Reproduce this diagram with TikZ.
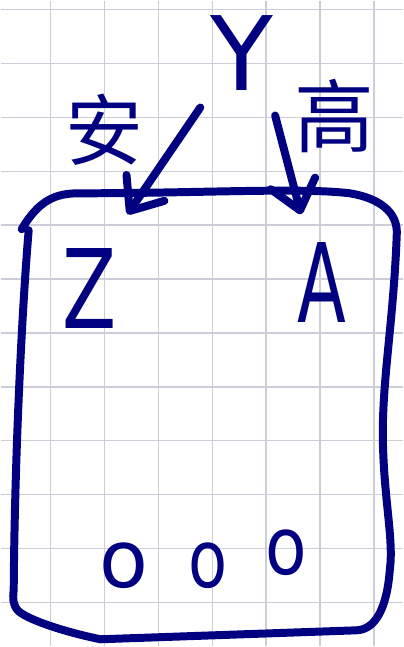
\documentclass[tikz,border=0pt]{standalone}
\usepackage{fontspec}
\setmainfont{DejaVu Sans}
\newfontfamily\cjk{Noto Sans CJK SC}
\usetikzlibrary{arrows.meta}
\definecolor{inkblue}{RGB}{0,0,128}
\definecolor{gridgray}{RGB}{205,205,218}
\tikzset{
  pen/.style={draw=inkblue, line width=8pt, line cap=round, line join=round},
  ink/.style={text=inkblue, inner sep=0pt},
  pointer/.style={pen, -{Straight Barb[length=28pt,width=46pt,round]}},
}

\begin{document}
\begin{tikzpicture}[x=1pt, y=-1pt]
    \fill[white] (0,0) rectangle (403,647);

    % paper grid
    \foreach \gx in {50,104,...,374}
        \draw[gridgray, line width=1.5pt] (\gx,0) -- (\gx,647);
    \foreach \gy in {9,63,...,603}
        \draw[gridgray, line width=1.5pt] (0,\gy) -- (403,\gy);

    % the box
    \draw[pen] (21,229) .. controls (38,200) and (55,193) .. (78,193)
        .. controls (200,193) and (300,187) .. (350,193)
        .. controls (380,198) and (397,212) .. (397,232)
        .. controls (394,320) and (382,380) .. (383,440)
        .. controls (384,500) and (394,540) .. (390,570)
        .. controls (387,610) and (375,630) .. (357,631)
        -- (100,640)
        .. controls (70,634) and (30,622) .. (18,612)
        .. controls (12,606) and (12,600) .. (13,590)
        .. controls (14,450) and (22,300) .. (28,230);

    % labels
    \node[ink, font=\fontsize{103}{103}\selectfont] (y) at (242,52) {Y};
    \node[ink, font=\cjk\fontsize{78}{78}\selectfont] (an) at (104,129) {安};
    \node[ink, font=\cjk\fontsize{80}{80}\selectfont] (gao) at (334,116) {高};
    \node[ink, font=\fontsize{110}{110}\selectfont, xscale=0.72] (z) at (89,288) {Z};
    \node[ink, font=\fontsize{110}{110}\selectfont, xscale=0.65] (a) at (322,282) {A};

    \node[ink, font=\fontsize{80}{80}\selectfont] (o1) at (123,566) {o};
    \node[ink, font=\fontsize{80}{80}\selectfont, xscale=0.8] (o2) at (208,566) {o};
    \node[ink, font=\fontsize{80}{80}\selectfont, xscale=0.85] (o3) at (286,553) {o};

    % arrows into the box
    \coordinate (fromY) at (200,107);
    \coordinate (toZ) at (127,214);
    \coordinate (fromYr) at (275,115);
    \coordinate (toA) at (301,214);
    \draw[pointer] (fromY) -- (toZ);
    \draw[pointer] (fromYr) -- (toA);
\end{tikzpicture}
\end{document}
